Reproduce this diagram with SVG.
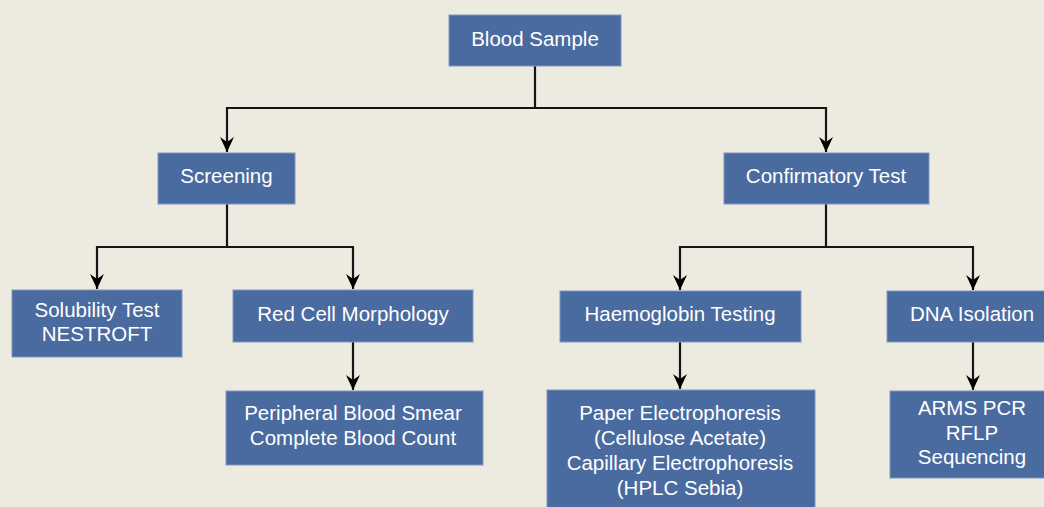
<svg xmlns="http://www.w3.org/2000/svg" width="1044" height="507" viewBox="0 0 1044 507">
  <style>
    .box { fill: #4a6ba0; stroke: #7f97bf; stroke-width: 1; }
    .lbl { fill: #ffffff; font-family: "Liberation Sans", Arial, sans-serif; font-size: 20.5px; text-anchor: middle; }
    .wire { fill: none; stroke: #151515; stroke-width: 2.2; }
  </style>
  <defs>
    <marker id="arrow" viewBox="-1 -8 17 16" markerWidth="17" markerHeight="16" refX="15" refY="0" orient="auto" markerUnits="userSpaceOnUse">
      <path d="M0,-7 L15,0 L0,7 L5,0 Z" fill="#000000"/>
    </marker>
  </defs>
  <rect width="1044" height="507" fill="#edeae0"/>

  <g id="connectors">
    <path class="wire" d="M535,66 V108 H227 V152" marker-end="url(#arrow)"/>
    <path class="wire" d="M535,108 H826 V152" marker-end="url(#arrow)"/>
    <path class="wire" d="M227,204 V247 H97 V289" marker-end="url(#arrow)"/>
    <path class="wire" d="M227,247 H353 V289" marker-end="url(#arrow)"/>
    <path class="wire" d="M353,342 V390" marker-end="url(#arrow)"/>
    <path class="wire" d="M826,204 V247 H680 V290" marker-end="url(#arrow)"/>
    <path class="wire" d="M826,247 H973 V290" marker-end="url(#arrow)"/>
    <path class="wire" d="M680,342 V389" marker-end="url(#arrow)"/>
    <path class="wire" d="M973,342 V390" marker-end="url(#arrow)"/>
  </g>

  <g id="blood-sample">
    <rect class="box" x="449" y="15" width="172" height="51"/>
    <text class="lbl" x="535" y="45.5">Blood Sample</text>
  </g>

  <g id="screening">
    <rect class="box" x="158" y="153" width="137" height="51"/>
    <text class="lbl" x="226.5" y="183">Screening</text>
  </g>

  <g id="confirmatory-test">
    <rect class="box" x="724" y="153" width="205" height="51"/>
    <text class="lbl" x="826" y="183">Confirmatory Test</text>
  </g>

  <g id="solubility-test">
    <rect class="box" x="12" y="290" width="170" height="67"/>
    <text class="lbl" x="97" y="317">Solubility Test</text>
    <text class="lbl" x="97" y="341">NESTROFT</text>
  </g>

  <g id="red-cell-morphology">
    <rect class="box" x="233" y="290" width="240" height="52"/>
    <text class="lbl" x="353" y="321">Red Cell Morphology</text>
  </g>

  <g id="haemoglobin-testing">
    <rect class="box" x="560" y="291" width="241" height="51"/>
    <text class="lbl" x="680" y="321">Haemoglobin Testing</text>
  </g>

  <g id="dna-isolation">
    <rect class="box" x="887" y="291" width="170" height="51"/>
    <text class="lbl" x="972" y="321">DNA Isolation</text>
  </g>

  <g id="blood-smear-count">
    <rect class="box" x="226" y="391" width="257" height="74"/>
    <text class="lbl" x="353" y="420">Peripheral Blood Smear</text>
    <text class="lbl" x="353" y="445">Complete Blood Count</text>
  </g>

  <g id="electrophoresis">
    <rect class="box" x="547" y="390" width="268" height="125"/>
    <text class="lbl" x="680" y="420">Paper Electrophoresis</text>
    <text class="lbl" x="680" y="445">(Cellulose Acetate)</text>
    <text class="lbl" x="680" y="470">Capillary Electrophoresis</text>
    <text class="lbl" x="680" y="495">(HPLC Sebia)</text>
  </g>

  <g id="molecular-tests">
    <rect class="box" x="890" y="391" width="166" height="87"/>
    <text class="lbl" x="972" y="415">ARMS PCR</text>
    <text class="lbl" x="972" y="440">RFLP</text>
    <text class="lbl" x="972" y="464">Sequencing</text>
  </g>
</svg>
